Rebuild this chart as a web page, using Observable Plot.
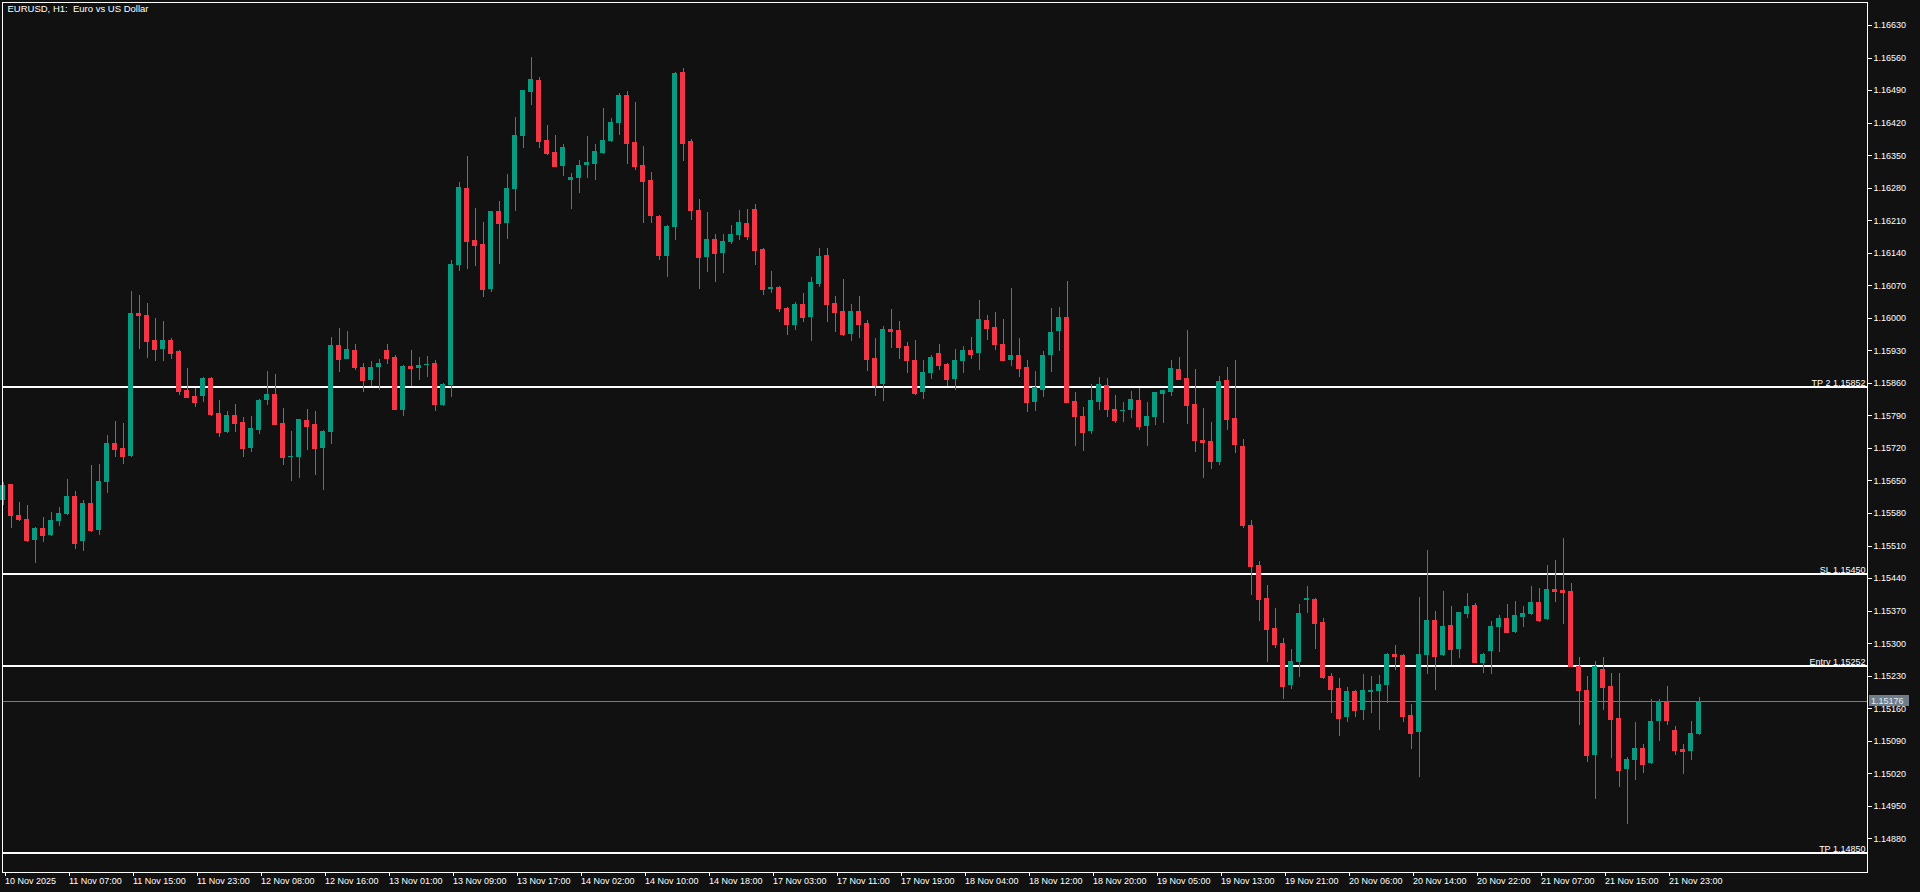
<!DOCTYPE html>
<html>
<head>
<meta charset="utf-8">
<script src="https://cdn.jsdelivr.net/npm/d3@7"></script>
<script src="https://cdn.jsdelivr.net/npm/@observablehq/plot@0.6"></script>
<style>
  html, body { margin: 0; padding: 0; background: #111111; overflow: hidden; }
  #chart svg { display: block; }
</style>
</head>
<body>
<div id="chart"></div>
<script>
// ---------- DATA (EURUSD H1) ----------
const chartTitle = "EURUSD, H1:  Euro vs US Dollar";

const openPrices = [
  1.15608,1.15642,1.15576,1.15567,1.15522,1.15548,1.15533,1.15563,1.15578,1.15617,
  1.15520,1.15602,1.15543,1.15647,1.15731,1.15720,1.15703,1.16010,1.16006,1.15952,
  1.15933,1.15952,1.15929,1.15845,1.15832,1.15832,1.15870,1.15795,1.15754,1.15791,
  1.15776,1.15720,1.15759,1.15823,1.15836,1.15774,1.15700,1.15700,1.15780,1.15772,
  1.15720,1.15754,1.15942,1.15911,1.15931,1.15894,1.15866,1.15894,1.15931,1.15916,
  1.15802,1.15896,1.15892,1.15898,1.15903,1.15812,1.15855,1.16114,1.16279,1.16167,
  1.16159,1.16062,1.16230,1.16204,1.16277,1.16391,1.16486,1.16512,1.16383,1.16357,
  1.16327,1.16297,1.16301,1.16329,1.16331,1.16355,1.16380,1.16419,1.16479,1.16378,
  1.16329,1.16297,1.16219,1.16133,1.16195,1.16529,1.16380,1.16232,1.16131,1.16170,
  1.16139,1.16163,1.16178,1.16204,1.16234,1.16148,1.16062,1.16066,1.16021,1.15985,
  1.16030,1.16002,1.16073,1.16135,1.16032,1.16015,1.15965,1.16015,1.15989,1.15914,
  1.15858,1.15976,1.15974,1.15939,1.15909,1.15840,1.15881,1.15924,1.15901,1.15868,
  1.15907,1.15931,1.15924,1.15995,1.15980,1.15944,1.15909,1.15920,1.15894,1.15819,
  1.15845,1.15920,1.15972,1.16002,1.15821,1.15789,1.15756,1.15819,1.15855,1.15804,
  1.15800,1.15802,1.15823,1.15767,1.15787,1.15836,1.15840,1.15890,1.15870,1.15815,
  1.15737,1.15735,1.15690,1.15866,1.15784,1.15724,1.15554,1.15468,1.15397,1.15333,
  1.15300,1.15210,1.15259,1.15393,1.15395,1.15345,1.15229,1.15203,1.15141,1.15197,
  1.15156,1.15195,1.15197,1.15210,1.15277,1.15274,1.15145,1.15109,1.15274,1.15350,
  1.15274,1.15339,1.15287,1.15363,1.15382,1.15257,1.15283,1.15335,1.15354,1.15324,
  1.15356,1.15363,1.15389,1.15352,1.15417,1.15414,1.15412,1.15251,1.15199,1.15059,
  1.15244,1.15208,1.15139,1.15029,1.15049,1.15074,1.15042,1.15132,1.15175,1.15113,
  1.15072,1.15068,1.15104
];

const highPrices = [
  1.15647,1.15643,1.15604,1.15597,1.15550,1.15571,1.15582,1.15593,1.15653,1.15627,
  1.15608,1.15683,1.15685,1.15748,1.15778,1.15774,1.16058,1.16049,1.16032,1.16000,
  1.15993,1.15957,1.15930,1.15892,1.15849,1.15873,1.15872,1.15823,1.15800,1.15815,
  1.15787,1.15789,1.15825,1.15886,1.15879,1.15806,1.15756,1.15783,1.15804,1.15800,
  1.15759,1.15959,1.15978,1.15972,1.15944,1.15903,1.15907,1.15911,1.15944,1.15920,
  1.15898,1.15931,1.15916,1.15918,1.15909,1.15860,1.16124,1.16292,1.16348,1.16236,
  1.16206,1.16230,1.16251,1.16309,1.16432,1.16490,1.16561,1.16518,1.16415,1.16393,
  1.16374,1.16312,1.16340,1.16391,1.16374,1.16451,1.16430,1.16484,1.16488,1.16464,
  1.16370,1.16314,1.16221,1.16200,1.16529,1.16538,1.16385,1.16256,1.16228,1.16180,
  1.16180,1.16200,1.16232,1.16234,1.16245,1.16150,1.16101,1.16068,1.16023,1.16034,
  1.16053,1.16088,1.16150,1.16150,1.16047,1.16083,1.16030,1.16047,1.15995,1.15957,
  1.15982,1.16019,1.15993,1.15948,1.15952,1.15909,1.15920,1.15944,1.15903,1.15933,
  1.15939,1.15959,1.16038,1.16006,1.16013,1.15997,1.16064,1.15957,1.15909,1.15886,
  1.15929,1.16021,1.16023,1.16079,1.15840,1.15808,1.15858,1.15873,1.15870,1.15834,
  1.15819,1.15842,1.15849,1.15819,1.15840,1.15845,1.15909,1.15916,1.15974,1.15890,
  1.15806,1.15776,1.15875,1.15894,1.15909,1.15739,1.15565,1.15477,1.15425,1.15376,
  1.15311,1.15287,1.15384,1.15423,1.15397,1.15354,1.15236,1.15225,1.15206,1.15199,
  1.15234,1.15229,1.15231,1.15279,1.15296,1.15276,1.15169,1.15399,1.15500,1.15369,
  1.15412,1.15380,1.15368,1.15408,1.15386,1.15279,1.15348,1.15361,1.15384,1.15391,
  1.15380,1.15423,1.15419,1.15468,1.15479,1.15526,1.15429,1.15270,1.15229,1.15262,
  1.15270,1.15236,1.15236,1.15055,1.15130,1.15083,1.15180,1.15180,1.15208,1.15122,
  1.15083,1.15132,1.15184
];

const lowPrices = [
  1.15597,1.15548,1.15563,1.15518,1.15473,1.15518,1.15530,1.15552,1.15575,1.15503,
  1.15498,1.15540,1.15533,1.15623,1.15700,1.15685,1.15700,1.15933,1.15914,1.15907,
  1.15907,1.15911,1.15834,1.15828,1.15808,1.15819,1.15789,1.15744,1.15752,1.15754,
  1.15700,1.15711,1.15750,1.15812,1.15769,1.15683,1.15649,1.15655,1.15716,1.15662,
  1.15630,1.15729,1.15883,1.15911,1.15888,1.15840,1.15853,1.15845,1.15901,1.15802,
  1.15789,1.15853,1.15866,1.15873,1.15800,1.15810,1.15830,1.16101,1.16105,1.16112,
  1.16045,1.16056,1.16116,1.16170,1.16230,1.16365,1.16458,1.16365,1.16350,1.16325,
  1.16305,1.16234,1.16269,1.16301,1.16297,1.16352,1.16378,1.16393,1.16331,1.16318,
  1.16204,1.16204,1.16124,1.16088,1.16167,1.16337,1.16210,1.16062,1.16099,1.16077,
  1.16096,1.16159,1.16167,1.16167,1.16114,1.16049,1.16053,1.16012,1.15963,1.15974,
  1.15991,1.15950,1.16066,1.15991,1.15969,1.15961,1.15950,1.15957,1.15885,1.15832,
  1.15821,1.15935,1.15911,1.15881,1.15834,1.15825,1.15868,1.15888,1.15853,1.15845,
  1.15881,1.15911,1.15888,1.15952,1.15931,1.15907,1.15896,1.15873,1.15797,1.15800,
  1.15830,1.15883,1.15929,1.15817,1.15724,1.15713,1.15750,1.15802,1.15787,1.15774,
  1.15776,1.15784,1.15759,1.15724,1.15769,1.15774,1.15832,1.15866,1.15772,1.15711,
  1.15655,1.15675,1.15683,1.15759,1.15709,1.15548,1.15404,1.15348,1.15259,1.15290,
  1.15180,1.15201,1.15227,1.15365,1.15287,1.15223,1.15150,1.15100,1.15130,1.15141,
  1.15135,1.15150,1.15113,1.15171,1.15242,1.15130,1.15072,1.15012,1.15234,1.15199,
  1.15272,1.15253,1.15268,1.15354,1.15257,1.15236,1.15234,1.15281,1.15322,1.15322,
  1.15335,1.15361,1.15346,1.15350,1.15389,1.15341,1.15249,1.15124,1.15044,1.14965,
  1.15156,1.15053,1.14990,1.14911,1.15006,1.15021,1.15040,1.15089,1.15124,1.15059,
  1.15018,1.15049,1.15102
];

const closePrices = [
  1.15640,1.15576,1.15567,1.15522,1.15548,1.15533,1.15565,1.15580,1.15617,1.15515,
  1.15602,1.15543,1.15649,1.15731,1.15718,1.15703,1.16010,1.16006,1.15950,1.15933,
  1.15952,1.15924,1.15843,1.15830,1.15819,1.15870,1.15793,1.15754,1.15791,1.15774,
  1.15720,1.15763,1.15823,1.15836,1.15772,1.15700,1.15703,1.15782,1.15767,1.15720,
  1.15756,1.15942,1.15911,1.15933,1.15894,1.15866,1.15894,1.15903,1.15914,1.15804,
  1.15896,1.15892,1.15898,1.15901,1.15815,1.15858,1.16116,1.16281,1.16165,1.16157,
  1.16062,1.16230,1.16204,1.16279,1.16393,1.16490,1.16514,1.16380,1.16355,1.16327,
  1.16367,1.16303,1.16329,1.16335,1.16359,1.16383,1.16421,1.16479,1.16376,1.16327,
  1.16294,1.16221,1.16135,1.16197,1.16527,1.16376,1.16232,1.16131,1.16170,1.16139,
  1.16165,1.16180,1.16206,1.16176,1.16146,1.16062,1.16066,1.16021,1.15987,1.16030,
  1.16002,1.16077,1.16133,1.16030,1.16012,1.15965,1.16015,1.15987,1.15911,1.15856,
  1.15976,1.15972,1.15937,1.15909,1.15838,1.15883,1.15916,1.15898,1.15868,1.15909,
  1.15931,1.15922,1.15997,1.15978,1.15944,1.15909,1.15920,1.15892,1.15819,1.15851,
  1.15920,1.15969,1.16002,1.15819,1.15789,1.15754,1.15823,1.15858,1.15804,1.15780,
  1.15802,1.15825,1.15767,1.15789,1.15840,1.15845,1.15892,1.15868,1.15812,1.15737,
  1.15733,1.15692,1.15864,1.15782,1.15729,1.15554,1.15466,1.15395,1.15330,1.15298,
  1.15208,1.15262,1.15365,1.15396,1.15343,1.15227,1.15201,1.15139,1.15197,1.15156,
  1.15199,1.15199,1.15212,1.15277,1.15272,1.15143,1.15107,1.15277,1.15350,1.15272,
  1.15337,1.15287,1.15367,1.15380,1.15259,1.15277,1.15337,1.15354,1.15324,1.15361,
  1.15365,1.15389,1.15350,1.15417,1.15412,1.15410,1.15251,1.15199,1.15059,1.15251,
  1.15206,1.15137,1.15027,1.15051,1.15074,1.15040,1.15132,1.15175,1.15135,1.15070,
  1.15068,1.15107,1.15176
];

// time axis: bar index of each labelled bar and its label
const xTickBars = [0, 8, 16, 24, 32, 40, 48, 56, 64, 72, 80, 88, 96, 104, 112, 120, 128, 136, 144, 152, 160, 168, 176, 184, 192, 200, 208];
const xTickLabels = [
  "10 Nov 2025", "11 Nov 07:00", "11 Nov 15:00", "11 Nov 23:00", "12 Nov 08:00", "12 Nov 16:00",
  "13 Nov 01:00", "13 Nov 09:00", "13 Nov 17:00", "14 Nov 02:00", "14 Nov 10:00", "14 Nov 18:00",
  "17 Nov 03:00", "17 Nov 11:00", "17 Nov 19:00", "18 Nov 04:00", "18 Nov 12:00", "18 Nov 20:00",
  "19 Nov 05:00", "19 Nov 13:00", "19 Nov 21:00", "20 Nov 06:00", "20 Nov 14:00", "20 Nov 22:00",
  "21 Nov 07:00", "21 Nov 15:00", "21 Nov 23:00"
];

// price axis ticks
const yTickValues = [
  1.16630, 1.16560, 1.16490, 1.16420, 1.16350, 1.16280, 1.16210, 1.16140, 1.16070, 1.16000,
  1.15930, 1.15860, 1.15790, 1.15720, 1.15650, 1.15580, 1.15510, 1.15440, 1.15370, 1.15300,
  1.15230, 1.15160, 1.15090, 1.15020, 1.14950, 1.14880
];

// trade levels
const levelNames = ["TP 2", "SL", "Entry", "TP"];
const levelPrices = [1.15852, 1.15450, 1.15252, 1.14850];

const currentPrice = 1.15176;

// ---------- BUILD ----------
const UP = "#089981", DOWN = "#f23645";
const candles = openPrices.map((o, i) => ({
  i, open: o, high: highPrices[i], low: lowPrices[i], close: closePrices[i]
}));
const colorOf = d => (d.close >= d.open ? UP : DOWN);
const levels = levelNames.map((name, k) => ({name, price: levelPrices[k]}));
const tickLabelMap = new Map(xTickBars.map((b, k) => [b, xTickLabels[k]]));
const HALF = 0.3125; // half body width, in bars

const FONT = "'Liberation Sans', Arial, sans-serif";

const plot = Plot.plot({
  width: 1920,
  height: 892,
  marginLeft: 2,
  marginRight: 53,
  marginTop: 2,
  marginBottom: 20,
  style: {background: "#111111", color: "#ffffff", fontFamily: FONT, fontSize: "9px", shapeRendering: "crispEdges"},
  x: {type: "linear", domain: [-0.0625, 233.0625]},
  y: {type: "linear", domain: [1.148075, 1.166795]},
  marks: [
    // current price line
    Plot.ruleY([currentPrice], {stroke: "#6f7d8b", strokeWidth: 1}),
    // trade level lines
    Plot.ruleY(levels, {y: "price", stroke: "#ffffff", strokeWidth: 2}),
    Plot.text(levels, {
      y: "price", frameAnchor: "right", text: d => `${d.name} ${d.price.toFixed(5)}`,
      textAnchor: "end", lineAnchor: "bottom", dx: -2, dy: -1, fill: "#ffffff", fontSize: 9
    }),
    // wicks
    Plot.ruleX(candles, {x: "i", y1: "low", y2: "high", stroke: colorOf, strokeWidth: 1}),
    // bodies
    Plot.rect(candles, {x1: d => d.i - HALF, x2: d => d.i + HALF, y1: "open", y2: "close", fill: colorOf}),
    Plot.ruleY(candles, {y: "close", x1: d => d.i - HALF, x2: d => d.i + HALF, stroke: colorOf, strokeWidth: 1}),
    // frame
    Plot.frame({stroke: "#ffffff", strokeWidth: 1}),
    // axes
    Plot.axisY({
      anchor: "right", ticks: yTickValues, tickFormat: d => d.toFixed(5),
      tickSize: 4, tickPadding: 2, fontSize: 9, label: null
    }),
    Plot.axisX({
      anchor: "bottom", ticks: xTickBars, tickFormat: d => tickLabelMap.get(d),
      tickSize: 4, tickPadding: 1, textAnchor: "start", dx: 2, fontSize: 9, label: null
    }),
    // title
    Plot.text([chartTitle], {
      frameAnchor: "top-left", text: d => d, dx: 5, dy: 3, lineAnchor: "top",
      textAnchor: "start", fill: "#ffffff", fontSize: 9.5
    })
  ]
});

document.getElementById("chart").appendChild(plot);

// current price tag on the price axis, placed with the plot's own y scale
const yPx = plot.scale("y").apply(currentPrice);
const svg = d3.select(plot);
const tag = svg.append("g").attr("font-family", FONT).attr("font-size", 9).attr("text-anchor", "start");
tag.append("rect")
  .attr("x", 1869).attr("y", Math.round(yPx) - 6).attr("width", 40).attr("height", 11)
  .attr("fill", "#6f7d8b");
tag.append("text")
  .attr("x", 1871).attr("y", Math.round(yPx) + 3)
  .attr("text-anchor", "start")
  .attr("fill", "#e6ebf0").text(currentPrice.toFixed(5));
</script>
</body>
</html>
